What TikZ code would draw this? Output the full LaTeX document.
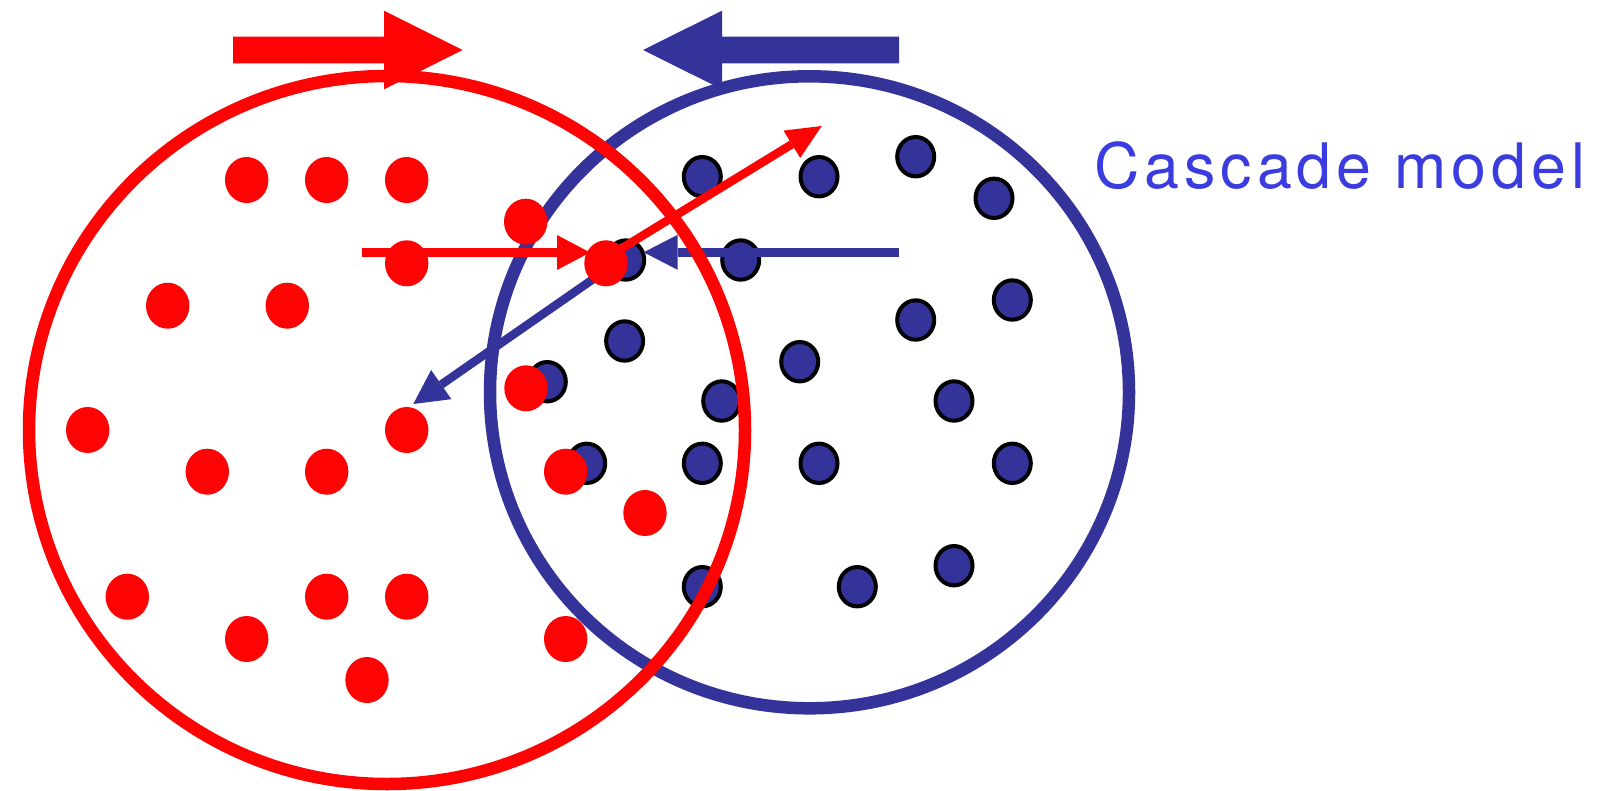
\documentclass[tikz,border=0pt]{standalone}
\usepackage{fontspec}
\newfontfamily\cascadefont[LetterSpace=8]{TeX Gyre Heros}
\usetikzlibrary{arrows.meta,shapes.geometric}
\definecolor{cred}{RGB}{253,3,3}
\definecolor{cblue}{RGB}{51,51,153}
\definecolor{ctext}{RGB}{58,60,224}
\tikzset{
  reddot/.style={ellipse,fill=cred,inner sep=0pt,minimum width=43.4pt,minimum height=46pt},
  bluedot/.style={ellipse,fill=cblue,draw=black,line width=4pt,inner sep=0pt,minimum width=37pt,minimum height=39.4pt},
  ring/.style={line width=12.5pt},
  thinarrow/.style={line width=8.5pt},
}
\begin{document}
\begin{tikzpicture}[x=1pt,y=-1pt]
\useasboundingbox[fill=white] (0,0) rectangle (1603,790);
% blue circle
\draw[ring,draw=cblue] (809.5,392.3) ellipse [x radius=319.5pt, y radius=316pt];
% blue dots
\foreach \n/\p in {b1/{(702.3,176.7)},b2/{(819,176.7)},b3/{(915.7,156.7)},b4/{(994,198.3)},
  b5/{(625.7,260)},b6/{(740.7,260)},b7/{(624.6,341)},b8/{(1012.3,300)},b9/{(915.7,320)},
  b10/{(799.7,361.7)},b11/{(547.3,381.7)},b12/{(721.7,401)},b13/{(954,401)},
  b14/{(586.7,463.3)},b15/{(702.3,463.3)},b16/{(819,463.3)},b17/{(1012.3,463.3)},
  b18/{(702.3,586.7)},b19/{(857.3,586.7)},b20/{(954,565.7)}}
  \node[bluedot] (\n) at \p {};
% blue arrows
\coordinate (bhs) at (899,252.3);
\coordinate (bht) at (643.6,252.3);
\coordinate (bds) at (612,266);
\coordinate (bdt) at (413.3,404);
\draw[thinarrow,cblue,-{Triangle[length=34pt,width=35pt,line width=0pt]}] (bhs) -- (bht);
\draw[thinarrow,cblue,-{Triangle[length=34pt,width=35.5pt,line width=0pt]}] (bds) -- (bdt);
% red circle
\draw[ring,draw=cred] (387,430) ellipse [x radius=358pt, y radius=354pt];
% red dots
\foreach \n/\p in {r1/{(246.7,180)},r2/{(326.7,180)},r3/{(406.7,180)},r4/{(525.7,221.7)},
  r5/{(406.7,263.3)},r6/{(606,263.3)},r7/{(167.7,305.7)},r8/{(287.3,305.7)},
  r9/{(526,388.3)},r10/{(87.7,430)},r11/{(406.7,430)},r12/{(207.3,471.7)},
  r13/{(326.7,471.7)},r14/{(565.7,471.7)},r15/{(645,513)},r16/{(127.3,596.7)},
  r17/{(326.7,596.7)},r18/{(406.7,596.7)},r19/{(246.7,639)},r20/{(565.7,639)},r21/{(367,680)}}
  \node[reddot] (\n) at \p {};
% red arrows
\coordinate (rhs) at (362,252.5);
\coordinate (rht) at (590,252.5);
\coordinate (rds) at (606,258);
\coordinate (rdt) at (821.7,126);
\draw[thinarrow,cred,-{Triangle[length=33pt,width=35pt,line width=0pt]}] (rhs) -- (rht);
\draw[thinarrow,cred,-{Triangle[length=35pt,width=32pt,line width=0pt]}] (rds) -- (rdt);
% big top arrows
\fill[cred] (233,36.7) -- (384,36.7) -- (384,10.7) -- (462.6,50) -- (384,89.3) -- (384,63.3) -- (233,63.3) -- cycle;
\fill[cblue] (899,36.7) -- (722,36.7) -- (722,10.7) -- (643,50) -- (722,89.3) -- (722,63.3) -- (899,63.3) -- cycle;
% label
\node[anchor=base west,inner sep=0pt,text=ctext,font=\cascadefont\fontsize{62.7pt}{70pt}\selectfont] (label) at (1094,188) {Cascade model};
\end{tikzpicture}
\end{document}
